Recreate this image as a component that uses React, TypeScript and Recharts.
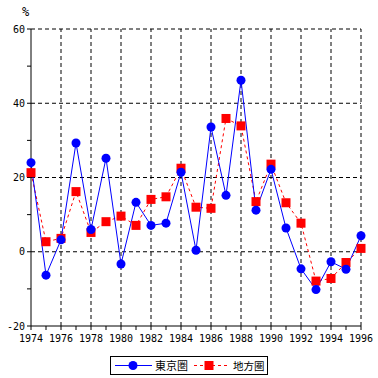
import React from 'react';
import { LineChart, Line, XAxis, YAxis, ReferenceLine } from 'recharts';

const years = [1974, 1975, 1976, 1977, 1978, 1979, 1980, 1981, 1982, 1983, 1984, 1985, 1986, 1987, 1988, 1989, 1990, 1991, 1992, 1993, 1994, 1995, 1996];
const tokyo = [24.0, -6.3, 3.2, 29.3, 6.0, 25.2, -3.3, 13.3, 7.1, 7.7, 21.4, 0.4, 33.6, 15.2, 46.2, 11.2, 22.2, 6.4, -4.6, -10.2, -2.7, -4.7, 4.3];
const chiho = [21.3, 2.7, 3.6, 16.2, 5.2, 8.1, 9.6, 7.1, 14.1, 14.8, 22.5, 12.0, 11.7, 35.9, 33.9, 13.5, 23.6, 13.2, 7.7, -7.9, -7.2, -2.9, 0.9];
const yTicks = [-20, -10, 0, 10, 20, 30, 40, 50, 60];
const gridYears = [1976, 1978, 1980, 1982, 1984, 1986, 1988, 1990, 1992, 1994, 1996];
const gridValues = [0, 20, 40, 60];

const data = years.map((year, i) => ({ year, tokyo: tokyo[i], chiho: chiho[i] }));

const MONO = '"DejaVu Sans Mono", monospace';
const CJK = '"Noto Sans CJK JP", sans-serif';
const BLUE = '#0000ff';
const RED = '#ff0000';

const SquareDot = (props: any) => {
  const { cx, cy } = props;
  if (cx == null || cy == null) return null;
  return <rect x={cx - 4.5} y={cy - 4.5} width={9} height={9} fill={RED} />;
};

const LegendBox = () => (
  <div
    style={{
      position: 'absolute',
      left: 110,
      top: 356,
      width: 156,
      height: 17,
      border: '1px solid #000',
      background: '#fff',
    }}
  >
    <svg width={156} height={17} style={{ display: 'block', overflow: 'visible' }}>
      <line x1={4} y1={8.5} x2={41} y2={8.5} stroke={BLUE} strokeWidth={1} />
      <circle cx={22} cy={8.5} r={4.5} fill={BLUE} />
      <text x={44} y={13} fontSize={11} fontFamily={CJK} fill="#000">東京圏</text>
      <line x1={83} y1={8.5} x2={119} y2={8.5} stroke={RED} strokeWidth={1} strokeDasharray="3 3" />
      <rect x={93.5} y={4} width={9} height={9} fill={RED} />
      <text x={122} y={13} fontSize={10.5} fontFamily={CJK} fill="#000">地方圏</text>
    </svg>
  </div>
);

export default function App() {
  return (
    <div style={{ position: 'absolute', left: 0, top: 0, width: 378, height: 378, background: '#fff' }}>
      <div style={{ position: 'absolute', left: 22, top: 5, fontSize: 12, fontFamily: MONO }}>%</div>
      <LineChart width={378} height={378} data={data} margin={{ top: 29, right: 17, left: 0, bottom: 32 }}>
        <XAxis
          dataKey="year"
          type="number"
          domain={[1974, 1996]}
          ticks={years}
          interval={0}
          tickFormatter={(v: number) => (v % 2 === 0 ? String(v) : '')}
          tick={{ fontSize: 10, fontFamily: MONO, fill: '#000' }}
          tickLine={{ stroke: '#000' }}
          tickSize={4}
          tickMargin={5}
          axisLine={{ stroke: '#000' }}
          height={20}
        />
        <YAxis
          type="number"
          domain={[-20, 60]}
          ticks={yTicks}
          interval={0}
          tickFormatter={(v: number) => (v % 20 === 0 ? String(v) : '')}
          tick={{ fontSize: 10, fontFamily: MONO, fill: '#000' }}
          tickLine={{ stroke: '#000' }}
          tickSize={4}
          axisLine={{ stroke: '#000' }}
          width={31}
        />
        {gridYears.map((y) => (
          <ReferenceLine key={'x' + y} x={y} stroke="#000" strokeDasharray="4 3" />
        ))}
        {gridValues.map((v) => (
          <ReferenceLine key={'y' + v} y={v} stroke="#000" strokeDasharray="4 3" />
        ))}
        <Line
          dataKey="chiho"
          stroke={RED}
          strokeWidth={1}
          strokeDasharray="3 3"
          dot={<SquareDot />}
          activeDot={false}
          isAnimationActive={false}
        />
        <Line
          dataKey="tokyo"
          stroke={BLUE}
          strokeWidth={1}
          dot={{ r: 4.5, fill: BLUE, stroke: BLUE, strokeWidth: 0 }}
          activeDot={false}
          isAnimationActive={false}
        />
      </LineChart>
      <LegendBox />
    </div>
  );
}
